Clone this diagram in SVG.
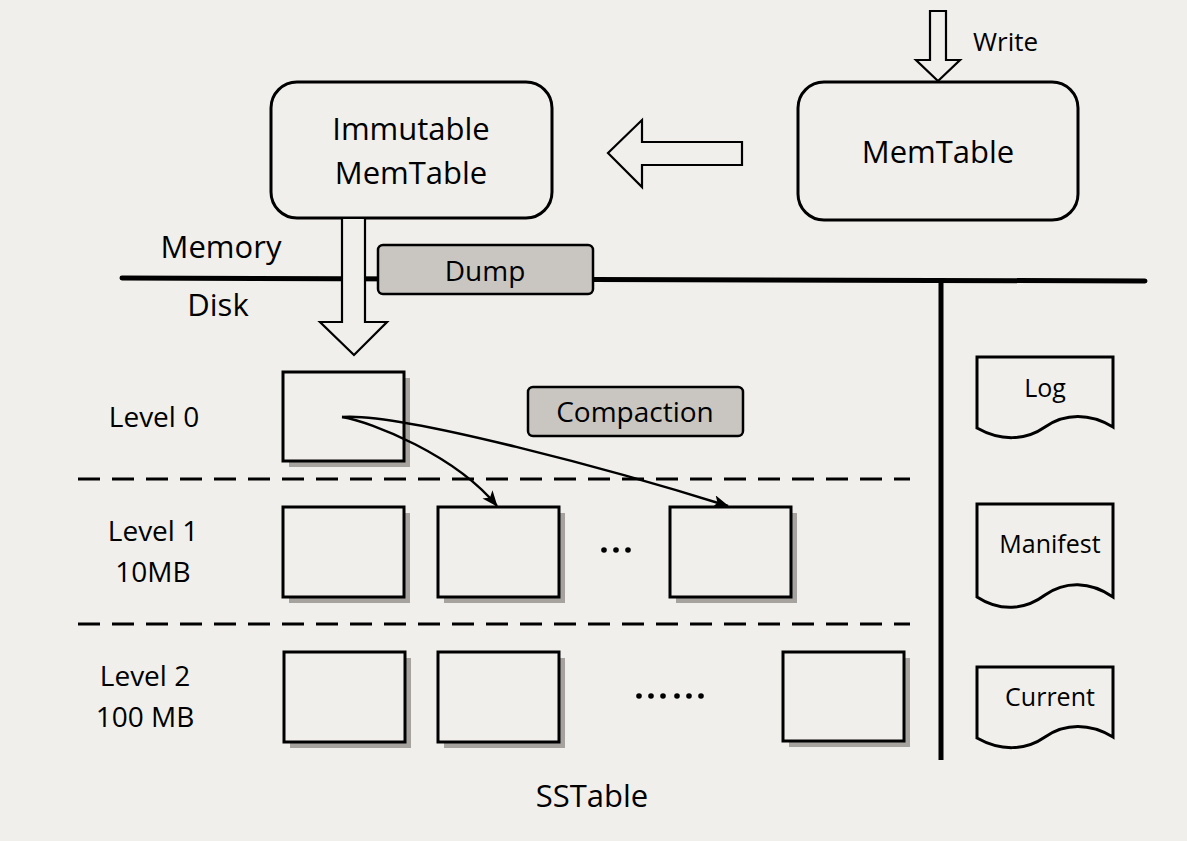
<svg xmlns="http://www.w3.org/2000/svg" width="1187" height="841" viewBox="0 0 1187 841">
<defs>
<style>
text{font-family:"Open Sans","Noto Sans","Liberation Sans",sans-serif;fill:#000;}
.lbl{font-size:31px;text-anchor:middle;}
.lvl{font-size:28px;text-anchor:middle;}
.doc{font-size:25px;text-anchor:middle;}
.rbox{fill:#f1efeb;stroke:#000;stroke-width:3;}
.sst{fill:#f1efeb;stroke:#000;stroke-width:3;}
.shadow{fill:#a6a39e;}
.tag{fill:#c9c6c1;stroke:#000;stroke-width:2.5;}
.fat{fill:#f1efeb;stroke:#000;stroke-width:2.2;stroke-linejoin:miter;}
.dash{stroke:#000;stroke-width:3;stroke-dasharray:22 12;fill:none;}
.curve{fill:none;stroke:#000;stroke-width:2.5;}
.dot{fill:#000;}
</style>
<marker id="ah" viewBox="0 0 16 13" refX="15" refY="6.5" markerWidth="16" markerHeight="13" markerUnits="userSpaceOnUse" orient="auto">
<path d="M0,0 L16,6.5 L0,13 L4,6.5 z" fill="#000"/>
</marker>
</defs>
<rect width="1187" height="841" fill="#f1efeb"/>

<g id="memory-disk-lines">
<line x1="122" y1="278" x2="1145" y2="281" stroke="#000" stroke-width="5" stroke-linecap="round"/>
<line x1="941" y1="281" x2="941" y2="760" stroke="#000" stroke-width="5"/>
<text class="lbl" x="221" y="258">Memory</text>
<text class="lbl" x="218" y="316">Disk</text>
</g>

<g id="write-label"><text x="973" y="51" style="font-size:26px">Write</text></g>

<g id="memtable">
<rect class="rbox" x="798" y="82" width="280" height="138" rx="26"/>
<text class="lbl" x="938" y="163">MemTable</text>
</g>

<g id="immutable-memtable">
<rect class="rbox" x="271" y="82" width="281" height="136" rx="26"/>
<text class="lbl" x="411" y="140">Immutable</text>
<text class="lbl" x="411" y="184">MemTable</text>
</g>

<g id="dump">
<rect class="tag" x="378" y="245" width="215" height="49" rx="5"/>
<text class="lbl" x="485" y="281" style="font-size:28px">Dump</text>
</g>

<g id="compaction">
<rect class="tag" x="528" y="387" width="215" height="49" rx="5"/>
<text class="lbl" x="635" y="422" style="font-size:28px">Compaction</text>
</g>

<g id="level-dividers">
<line class="dash" x1="78" y1="479" x2="910" y2="479"/>
<line class="dash" x1="78" y1="624" x2="910" y2="624"/>
</g>

<g id="level-labels">
<text class="lvl" x="154" y="427">Level 0</text>
<text class="lvl" x="153" y="541">Level 1</text>
<text class="lvl" x="153" y="582">10MB</text>
<text class="lvl" x="145" y="686">Level 2</text>
<text class="lvl" x="145" y="727">100 MB</text>
</g>

<g id="l0-sst1">
<rect class="shadow" x="289" y="378" width="121" height="89"/>
<rect class="sst" x="283" y="372" width="121" height="89"/>
</g>

<g id="l1-sst1">
<rect class="shadow" x="289" y="513" width="121" height="90"/>
<rect class="sst" x="283" y="507" width="121" height="90"/>
</g>
<g id="l1-sst2">
<rect class="shadow" x="444" y="513" width="121" height="90"/>
<rect class="sst" x="438" y="507" width="121" height="90"/>
</g>
<g id="l1-dots">
<circle class="dot" cx="604" cy="550" r="2.8"/>
<circle class="dot" cx="616" cy="550" r="2.8"/>
<circle class="dot" cx="628" cy="550" r="2.8"/>
</g>
<g id="l1-sst3">
<rect class="shadow" x="676" y="513" width="121" height="90"/>
<rect class="sst" x="670" y="507" width="121" height="90"/>
</g>

<g id="l2-sst1">
<rect class="shadow" x="290" y="658" width="121" height="90"/>
<rect class="sst" x="284" y="652" width="121" height="90"/>
</g>
<g id="l2-sst2">
<rect class="shadow" x="444" y="658" width="121" height="90"/>
<rect class="sst" x="438" y="652" width="121" height="90"/>
</g>
<g id="l2-dots">
<circle class="dot" cx="639" cy="696" r="2.8"/>
<circle class="dot" cx="651" cy="696" r="2.8"/>
<circle class="dot" cx="663" cy="696" r="2.8"/>
<circle class="dot" cx="677" cy="696" r="2.8"/>
<circle class="dot" cx="689" cy="696" r="2.8"/>
<circle class="dot" cx="701" cy="696" r="2.8"/>
</g>
<g id="l2-sst3">
<rect class="shadow" x="789" y="658" width="121" height="89"/>
<rect class="sst" x="783" y="652" width="121" height="89"/>
</g>

<g id="log">
<path class="sst" d="M977,357 H1113 V427 C1090,413 1065,413 1045,427 C1025,441 1000,441 977,428 Z"/>
<text class="doc" x="1045" y="397">Log</text>
</g>
<g id="manifest">
<path class="sst" d="M977,504 H1113 V597 C1090,581 1065,581 1045,595 C1025,610 1000,612 977,597 Z"/>
<text class="doc" x="1050" y="553">Manifest</text>
</g>
<g id="current">
<path class="sst" d="M977,667 H1113 V737 C1090,723 1065,723 1045,737 C1025,751 1000,751 977,738 Z"/>
<text class="doc" x="1050" y="706">Current</text>
</g>

<g id="sstable-label"><text class="lbl" x="592" y="807">SSTable</text></g>

<g id="connectors">
<path class="fat" d="M930,11 H946 V60 H960 L938,81 L916,60 H930 Z"/>
<path class="fat" d="M742,142 V165 H642 V187 L608,153 L642,120 V142 Z"/>
<path class="fat" d="M342,218 H365 V322 H387 L354,355 L320,322 H342 Z"/>
<path class="curve" d="M342,417 C372,422 455,455 497,506" marker-end="url(#ah)"/>
<path class="curve" d="M342,417 C400,412 620,472 728,506" marker-end="url(#ah)"/>
</g>
</svg>
